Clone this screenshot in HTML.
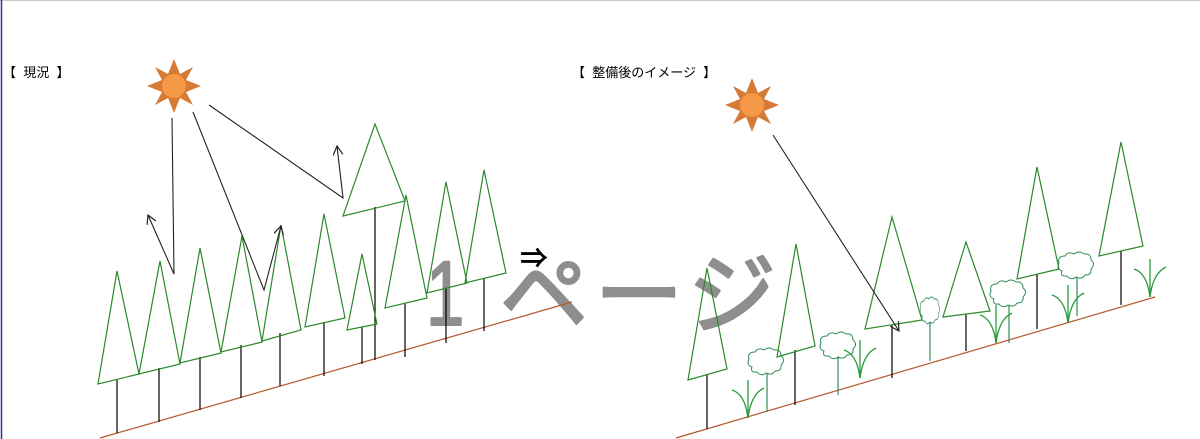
<!DOCTYPE html>
<html><head><meta charset="utf-8"><style>
html,body{margin:0;padding:0;background:#fff;}
svg{display:block;}
text{font-family:"Liberation Sans","Noto Sans CJK JP",sans-serif;}
</style></head><body>
<svg width="1200" height="439" viewBox="0 0 1200 439" xmlns="http://www.w3.org/2000/svg">
<defs>
<marker id="ah" markerWidth="10" markerHeight="10" refX="9" refY="5" orient="auto" markerUnits="userSpaceOnUse">
<path d="M0,0 L9,5 L0,10" fill="none" stroke="#222" stroke-width="1.2"/>
</marker>
<g id="sun">
<polygon points="0,-27 6,-12 19,-19 12,-6 27,0 12,6 19,19 6,12 0,27 -6,12 -19,19 -12,6 -27,0 -12,-6 -19,-19 -6,-12" fill="#d67a36"/>
<circle r="12" fill="#f59848"/>
</g>
<g id="cloud" fill="#fff" stroke="#2e8b57" stroke-width="1">
<path d="M-14,6 q-6,-2 -3,-8 q-2,-7 6,-7 q3,-5 9,-2 q5,-4 10,0 q7,-1 7,6 q5,4 0,9 q1,6 -6,6 q-3,5 -9,2 q-5,4 -9,-1 q-7,1 -5,-5z"/>
</g>
<g id="grass" fill="none" stroke="#2a9a3a" stroke-width="1.3">
<path d="M0,0 L0,-38"/><path d="M0,0 Q-3,-24 -16,-28"/><path d="M0,0 Q3,-24 16,-30"/>
</g>
</defs>
<line x1="0" y1="0.5" x2="1200" y2="0.5" stroke="#c8c8c8"/>
<line x1="1.5" y1="0" x2="1.5" y2="439" stroke="#3030a0" stroke-width="1.5"/>

<text x="3" y="77" font-size="13" xml:space="preserve">【  現況  】</text>
<text x="572" y="77" font-size="13" xml:space="preserve">【  整備後のイメージ  】</text>

<!-- watermark (behind) -->
<g fill="#8e8e8e" stroke="#8e8e8e" stroke-width="2.5" stroke-linejoin="round" font-family="Noto Sans CJK JP, sans-serif">
<text transform="translate(426,325) scale(0.75,1)" font-size="92" stroke-width="2">1</text>
<text x="500" y="326" font-size="88">ペ</text>
<text x="595" y="326" font-size="88">ー</text>
<text x="688" y="326" font-size="88">ジ</text>
</g>
<text x="520" y="268" font-size="28" fill="#000" font-weight="bold">⇒</text>

<!-- left ground -->
<line x1="100" y1="438" x2="572" y2="302" stroke="#b5562a" stroke-width="1.2"/>
<g stroke="#000" stroke-width="1.2">
<line x1="117" y1="380" x2="117" y2="433"/>
<line x1="159" y1="368" x2="159" y2="422"/>
<line x1="200" y1="357" x2="200" y2="410"/>
<line x1="241" y1="345" x2="241" y2="398"/>
<line x1="280" y1="333" x2="280" y2="386"/>
<line x1="324" y1="322" x2="324" y2="376"/>
<line x1="362" y1="327" x2="362" y2="364"/>
<line x1="375" y1="207" x2="375" y2="360"/>
<line x1="405" y1="303" x2="405" y2="357"/>
<line x1="446" y1="289" x2="446" y2="343"/>
<line x1="484" y1="278" x2="484" y2="331"/>
</g>
<g fill="none" stroke="#2a8a2a" stroke-width="1.2">
<polygon points="117,271 98,384 139,374"/>
<polygon points="160,261 139,374 180,364"/>
<polygon points="200,248 180,363 221,353"/>
<polygon points="242,236 221,352 262,342"/>
<polygon points="281,225 262,341 301,330"/>
<polygon points="324,214 305,327 345,318"/>
<polygon points="362,254 347,330 377,324"/>
<polygon points="375,124 343,216 405,201"/>
<polygon points="406,195 385,308 427,298"/>
<polygon points="446,182 427,293 467,283"/>
<polygon points="484,170 465,283 506,273"/>
</g>
<use href="#sun" x="174" y="86"/>
<g fill="none" stroke="#222" stroke-width="1.1">
<polyline points="172,118 174,274 148,215" marker-end="url(#ah)"/>
<polyline points="193,112 264,290 281,226" marker-end="url(#ah)"/>
<polyline points="209,105 343,198 337,146" marker-end="url(#ah)"/>
</g>

<!-- right -->
<line x1="676" y1="438" x2="1155" y2="297" stroke="#b5562a" stroke-width="1.2"/>
<g stroke="#000" stroke-width="1.2">
<line x1="707" y1="375" x2="707" y2="429"/>
<line x1="795" y1="350" x2="795" y2="405"/>
<line x1="892" y1="325" x2="892" y2="378"/>
<line x1="966" y1="314" x2="966" y2="351"/>
<line x1="1037" y1="274" x2="1037" y2="329"/>
<line x1="1121" y1="251" x2="1121" y2="305"/>
</g>
<g stroke="#2e8b57" stroke-width="1.2">
<line x1="767" y1="372" x2="767" y2="412"/>
<line x1="838" y1="356" x2="838" y2="395"/>
<line x1="930" y1="320" x2="930" y2="361"/>
<line x1="1009" y1="304" x2="1009" y2="343"/>
<line x1="1077" y1="276" x2="1077" y2="316"/>
</g>
<use href="#cloud" x="766" y="361"/>
<use href="#cloud" x="838" y="345"/>
<g transform="translate(930,310) scale(0.55,1)"><use href="#cloud"/></g>
<use href="#cloud" x="1008" y="293"/>
<use href="#cloud" x="1076" y="265"/>
<use href="#grass" x="748" y="418"/>
<use href="#grass" x="860" y="378"/>
<use href="#grass" x="996" y="343"/>
<use href="#grass" x="1068" y="323"/>
<use href="#grass" x="1150" y="297"/>
<g fill="none" stroke="#2a8a2a" stroke-width="1.2">
<polygon points="707,268 688,380 727,369"/>
<polygon points="796,244 777,357 815,346"/>
<polygon points="892,217 865,329 922,320"/>
<polygon points="966,242 943,317 990,311"/>
<polygon points="1037,167 1017,279 1059,269"/>
<polygon points="1121,142 1099,256 1143,246"/>
</g>
<use href="#sun" x="752" y="105"/>
<line x1="773" y1="135" x2="899" y2="331" stroke="#222" stroke-width="1.1" marker-end="url(#ah)"/>
</svg>
</body></html>
